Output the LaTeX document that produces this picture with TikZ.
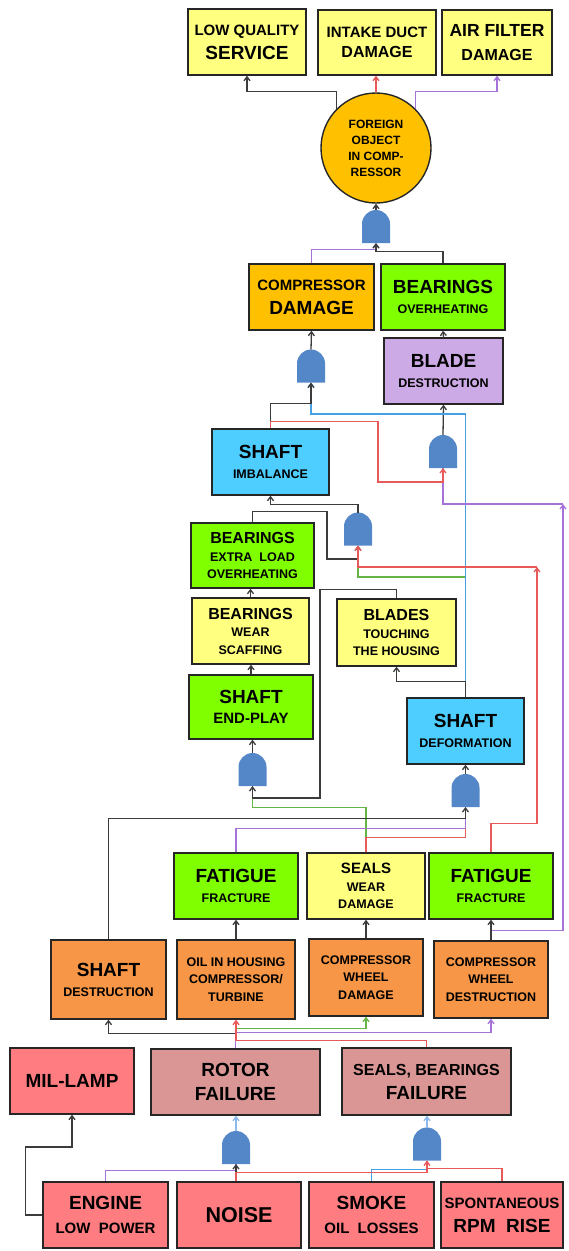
\documentclass[tikz,border=0pt]{standalone}
\usepackage{fontspec}
\setmainfont{Liberation Sans}
\usepackage{xcolor}
\usepackage{tikz}
\usetikzlibrary{arrows.meta,calc}
\newcommand{\fbig}{\fontsize{19}{21}\selectfont}
\newcommand{\fmid}{\fontsize{15}{19}\selectfont}
\newcommand{\fsml}{\fontsize{12.5}{17}\selectfont}
\definecolor{cYel}{RGB}{255,255,128}
\definecolor{cGold}{RGB}{255,192,0}
\definecolor{cLime}{RGB}{128,255,0}
\definecolor{cLilac}{RGB}{204,170,230}
\definecolor{cSky}{RGB}{77,206,255}
\definecolor{cTang}{RGB}{247,150,70}
\definecolor{cRose}{RGB}{217,150,148}
\definecolor{cSalm}{RGB}{255,124,128}
\definecolor{cGate}{RGB}{84,135,199}
\definecolor{kBlk}{RGB}{60,60,60}
\definecolor{kRed}{RGB}{232,90,90}
\definecolor{kPur}{RGB}{165,115,215}
\definecolor{kBlu}{RGB}{70,160,225}
\definecolor{kGrn}{RGB}{100,180,70}
\definecolor{kSky}{RGB}{140,185,235}

\begin{document}
\begin{tikzpicture}[
  x=1pt, y=-1pt,
  box/.style={draw=black!85,line width=1.4pt,align=center,inner sep=1pt,
              minimum width=118pt,minimum height=66pt,
              font=\bfseries\fontsize{12}{20}\selectfont},
  gap/.style={font=\bfseries\fontsize{12}{24}\selectfont},
  trio/.style={font=\bfseries\fontsize{12}{17.5}\selectfont},
  gate/.style={minimum width=28pt,minimum height=33pt,inner sep=0pt,outer sep=0pt,
    path picture={\fill[cGate] (path picture bounding box.south west) -- ++(0pt,19pt)
      arc[start angle=180,end angle=0,radius=14pt]
      -- (path picture bounding box.south east) -- cycle;}},
  wblk/.style={draw=kBlk,line width=1.3pt},
  wred/.style={draw=kRed,line width=1.3pt},
  wpur/.style={draw=kPur,line width=1.3pt},
  wblu/.style={draw=kBlu,line width=1.3pt},
  wgrn/.style={draw=kGrn,line width=1.3pt},
  wsky/.style={draw=kSky,line width=1.3pt},
  >={Straight Barb[length=4pt,width=6pt]}
]
\useasboundingbox (0,0) rectangle (568,1251);

\node[box,gap,fill=cYel] (lqs) at (247,42) {\fmid LOW QUALITY\\\fbig SERVICE};
\node[box,fill=cYel,minimum height=65pt] (intake) at (377,42.5) {\fmid INTAKE DUCT\\\fontsize{16}{19}\selectfont DAMAGE};
\node[box,gap,fill=cYel,minimum width=110pt,minimum height=65pt] (airf) at (497,42.5) {\fontsize{17.5}{20}\selectfont AIR FILTER\\\fontsize{16}{19}\selectfont DAMAGE};
\node[circle,draw=black!85,line width=1.4pt,fill=cGold,minimum size=110pt,align=center,
      font=\fontsize{12}{16}\selectfont\bfseries] (fo) at (376,148) {FOREIGN\\OBJECT\\IN COMP-\\RESSOR};
\node[gate] (g1) at (376,226.5) {};

\node[box,gap,fill=cGold,minimum width=125pt] (compd) at (311.5,297) {\fmid COMPRESSOR\\\fbig DAMAGE};
\node[box,fill=cLime,minimum width=124pt] (bearo) at (443,297) {\fbig BEARINGS\\\fsml OVERHEATING};
\node[box,fill=cLilac,minimum width=119pt] (blade) at (443.5,371) {\fbig BLADE\\\fsml DESTRUCTION};
\node[gate] (g2) at (311,366) {};
\node[gate] (g3) at (443,451.5) {};

\node[box,fill=cSky,minimum width=117pt] (shimb) at (270.5,462) {\fbig SHAFT\\\fsml IMBALANCE};
\node[gate] (g4) at (358,529) {};
\node[box,trio,fill=cLime,minimum width=123pt,minimum height=65pt] (bextra) at (252.5,555.5)
  {\fontsize{16}{19}\selectfont BEARINGS\\\fsml EXTRA~~LOAD\\\fsml OVERHEATING};
\node[box,trio,fill=cYel,minimum width=117pt] (bwear) at (250.5,631)
  {\fontsize{16}{19}\selectfont BEARINGS\\\fsml WEAR\\\fsml SCAFFING};
\node[box,trio,fill=cYel,minimum width=119pt,minimum height=67pt] (btouch) at (396.5,632.5)
  {\fontsize{16}{19}\selectfont BLADES\\\fsml TOUCHING\\\fsml THE HOUSING};
\node[box,fill=cLime,minimum width=124pt,minimum height=64pt] (endplay) at (251,707) {\fbig SHAFT\\\fmid END-PLAY};
\node[gate] (g5) at (252.5,769.5) {};
\node[box,fill=cSky,minimum width=117pt] (sdef) at (465.5,731) {\fbig SHAFT\\\fsml DEFORMATION};
\node[gate] (g6) at (465.5,790.5) {};

\node[box,fill=cLime,minimum width=124pt] (fatl) at (236,886) {\fbig FATIGUE\\\fsml FRACTURE};
\node[box,trio,fill=cYel] (seals) at (366,886) {\fmid SEALS\\\fsml WEAR\\\fsml DAMAGE};
\node[box,fill=cLime,minimum width=124pt] (fatr) at (491,886) {\fbig FATIGUE\\\fsml FRACTURE};

\node[box,fill=cTang,minimum width=115pt,minimum height=79pt] (sdest) at (108.5,979.5) {\fbig SHAFT\\\fsml DESTRUCTION};
\node[box,trio,fill=cTang,minimum height=79pt] (oil) at (236,979.5) {\fsml OIL IN HOUSING\\\fsml COMPRESSOR/\\\fsml TURBINE};
\node[box,trio,fill=cTang,minimum width=114pt,minimum height=77pt] (cwdam) at (366,977.5) {\fsml COMPRESSOR\\\fsml WHEEL\\\fsml DAMAGE};
\node[box,trio,fill=cTang,minimum width=114pt,minimum height=77pt] (cwdes) at (491,979.5) {\fsml COMPRESSOR\\\fsml WHEEL\\\fsml DESTRUCTION};

\node[box,fill=cSalm,minimum width=124pt] (mil) at (72,1081) {\fbig MIL-LAMP};
\node[box,gap,fill=cRose,minimum width=169pt] (rotor) at (235.5,1082) {\fbig ROTOR\\\fbig FAILURE};
\node[box,gap,fill=cRose,minimum width=169pt,minimum height=67pt] (sbf) at (426.5,1081.5)
  {\fontsize{16}{20}\selectfont SEALS, BEARINGS\\\fbig FAILURE};
\node[gate] (g7) at (236,1147.5) {};
\node[gate] (g8) at (427,1144) {};

\node[box,gap,fill=cSalm,minimum width=125pt] (engine) at (105.5,1215) {\fbig ENGINE\\\fmid LOW~~POWER};
\node[box,fill=cSalm,minimum width=124pt] (noise) at (239,1215) {\fontsize{21.5}{24}\selectfont NOISE};
\node[box,gap,fill=cSalm,minimum width=125pt] (smoke) at (371.5,1215) {\fbig SMOKE\\\fmid OIL~~LOSSES};
\node[box,gap,fill=cSalm,minimum width=122pt] (spont) at (502,1215) {\fmid SPONTANEOUS\\\fbig RPM~~RISE};

\coordinate (pj) at (563,504);
\coordinate (rj) at (537,567);

\draw[wblk,->] (fo.135) -- ++(0,-17) -| (lqs.south);
\draw[wred,->] (fo.north) -- (fo.north |- intake.south);
\draw[wpur,->] (fo.45) -- ++(0,-17) -| (airf.south);
\draw[wblk,->] (g1.north) -- (fo.south);
\draw[wpur,->] (compd.north) -- ++(0,-14) -| (g1.south);
\draw[wblk,->] (bearo.north) -- ++(0,-12) -| (g1.south);

\draw[wblk,->] (g2.north) -- (compd.south);
\draw[wblk,->] (blade.north) -- (bearo.south);
\draw[wblk,->] (g3.north) -- (blade.south);
\draw[wgrn] (sdef.north) |- (358,577) -- ++(0,-10);
\draw[wblu,->] (sdef.north) |- (311,414) -- (g2.south);
\draw[wblk,->] (shimb.north) -- ++(0,-25) -| (g2.south);
\draw[wpur,->] (cwdes.north) -- ++(0,-10) -| (pj);
\draw[wpur] (pj) -| (g3.south);
\draw[wred,->] (shimb.north) -- ++(0,-7) -| (378,482) -| (g3.south);

\draw[wblk,->] (g4.north) -- ++(0,-8) -| (shimb.south);
\draw[wblk,->] (bextra.north) -- ++(0,-11) -| (327,559) -| (g4.south);
\draw[wred,->] (fatr.north) -- ++(0,-29) -| (rj);
\draw[wred,->] (rj) -| (g4.south);
\draw[wblk,->] (bwear.north) -- (bwear.north |- bextra.south);
\draw[wblk,->] (endplay.north) -- (endplay.north |- bwear.south);
\draw[wblk,->] (g5.north) -- (g5.north |- endplay.south);
\draw[wgrn] (seals.north) -- ++(0,-45) -| (g5.south);
\draw[wblk,->] (btouch.north) -- ++(0,-9) -| (320,798) -| (g5.south);
\draw[wblk,->] (sdef.north) -- ++(0,-16) -| (btouch.south);
\draw[wblk,->] (g6.north) -- (sdef.south);
\draw[wred] (seals.north) -- ++(0,-15) -| (g6.south);
\draw[wpur] (fatl.north) -- ++(0,-24) -| (g6.south);
\draw[wblk,->] (sdest.north) -- ++(0,-121) -| (g6.south);

\draw[wblk,->] (oil.north) -- (oil.north |- fatl.south);
\draw[wblk,->] (cwdam.north) -- (cwdam.north |- seals.south);
\draw[wblk,->] (cwdes.north) -- (cwdes.north |- fatr.south);

\draw[wblk,->] (rotor.north) -- ++(0,-15) -| (sdest.south);
\draw[wgrn,->] (rotor.north) -- ++(0,-20) -| (cwdam.south);
\draw[wpur,->] (rotor.north) -- ++(0,-16) -| (cwdes.south);
\draw[wred,->] (sbf.north) -- ++(0,-7) -| (oil.south);

\draw[wsky,->] (g7.north) -- (g7.north |- rotor.south);
\draw[wsky,->] (g8.north) -- (g8.north |- sbf.south);
\draw[wblk,->] (engine.west) -- ++(-17,0) |- (mil.south |- 0,1147) -- (mil.south);
\draw[wpur] (engine.north) -- ++(0,-11) -| (g7.south);
\draw[wblk,->] (g7.south |- noise.north) -- (g7.south);
\draw[wblu] (smoke.north) -- ++(0,-12) -| (g8.south);
\draw[wred] (spont.north) -- ++(0,-13) -| (g8.south);
\draw[wred,->] (g7.south |- noise.north) -- ++(0,-9) -| (g8.south);
\end{tikzpicture}
\end{document}
